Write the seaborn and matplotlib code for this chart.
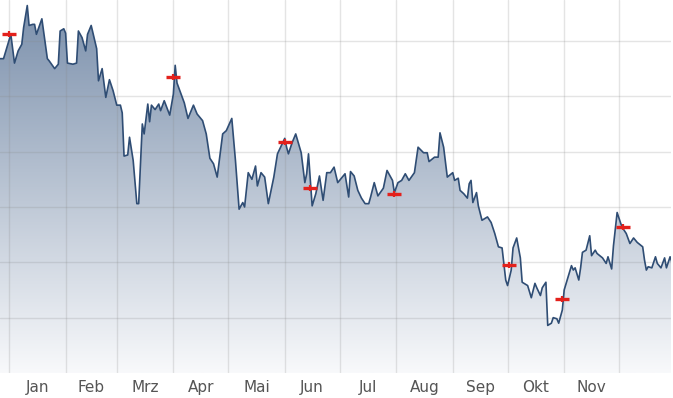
import numpy as np
import pandas as pd
import matplotlib
matplotlib.use("Agg")
import matplotlib.pyplot as plt
import matplotlib.dates as mdates
from matplotlib.colors import LinearSegmentedColormap
from matplotlib.ticker import FixedLocator, FixedFormatter, NullFormatter
import seaborn as sns

# days counted from 1 Jan, closing price
days = [-5, -3, 1, 3, 5, 7, 8, 10, 11, 13, 14, 15, 18, 21, 22, 25, 27, 28, 30, 31,
        32, 35, 37, 38, 40, 42, 43, 45, 48, 49, 51, 53, 55, 57, 59, 61, 62, 63, 65, 66,
        68, 70, 71, 73, 74, 76, 77, 78, 80, 82, 83, 85, 88, 90, 91, 92, 94, 96, 98, 101,
        103, 106, 108, 110, 112, 114, 117, 119, 122, 124, 126, 128, 129, 131, 133, 135, 136, 138, 140, 142,
        145, 147, 149, 151, 152, 153, 155, 157, 160, 162, 163, 164, 166, 168, 170, 172, 174, 176, 178, 180,
        182, 184, 186, 187, 189, 191, 193, 195, 197, 198, 200, 202, 205, 207, 210, 211, 213, 215, 217, 219,
        222, 224, 227, 229, 230, 233, 235, 236, 238, 240, 243, 244, 246, 247, 249, 251, 252, 253, 254, 256,
        257, 259, 262, 264, 266, 267, 268, 270, 272, 273, 275, 276, 278, 280, 281, 284, 286, 288, 289, 291,
        292, 294, 295, 297, 298, 300, 301, 303, 304, 306, 308, 309, 310, 312, 313, 314, 316, 318, 319, 321,
        322, 325, 327, 328, 330, 331, 333, 335, 336, 338, 340, 342, 344, 347, 348, 349, 350, 352, 354, 355,
        357, 359, 360, 362, 364]
price = [68.4, 68.4, 70.6, 68.0, 69.1, 69.7, 71.2, 73.2, 71.4, 71.5, 71.5, 70.6, 72.0, 68.4, 68.2, 67.5, 67.9, 70.9, 71.1, 70.7,
         68.0, 67.9, 68.0, 70.9, 70.3, 69.1, 70.6, 71.4, 69.3, 66.4, 67.5, 64.9, 66.5, 65.5, 64.2, 64.2, 63.5, 59.6, 59.7, 61.3,
         59.2, 55.3, 55.3, 62.5, 61.6, 64.3, 62.7, 64.2, 63.8, 64.3, 63.7, 64.6, 63.3, 65.2, 67.8, 66.2, 65.3, 64.4, 63.0, 64.2,
         63.4, 62.8, 61.6, 59.4, 58.9, 57.7, 61.6, 61.9, 63.0, 59.2, 54.8, 55.4, 55.0, 58.1, 57.5, 58.7, 56.9, 58.1, 57.7, 55.3,
         57.7, 59.8, 60.5, 61.2, 60.4, 59.8, 60.8, 61.6, 59.9, 57.2, 58.0, 59.8, 55.1, 56.2, 57.8, 55.6, 58.1, 58.1, 58.6, 57.2,
         57.6, 58.0, 55.9, 58.2, 57.8, 56.5, 55.8, 55.3, 55.3, 55.9, 57.2, 56.0, 56.7, 58.3, 57.4, 56.3, 57.2, 57.4, 58.0, 57.4,
         58.1, 60.4, 59.9, 59.9, 59.1, 59.5, 59.5, 61.7, 60.4, 57.7, 58.1, 57.4, 57.6, 56.5, 56.2, 55.8, 57.1, 57.4, 55.4, 56.3,
         55.1, 53.8, 54.1, 53.6, 52.6, 52.0, 51.4, 51.3, 48.4, 47.9, 49.3, 51.3, 52.2, 50.4, 48.2, 47.9, 46.8, 48.1, 47.7, 47.0,
         47.7, 48.2, 44.3, 44.5, 45.0, 44.9, 44.5, 45.7, 47.5, 48.6, 49.7, 49.3, 49.5, 48.4, 49.5, 50.9, 51.1, 52.4, 50.6, 51.1,
         50.8, 50.4, 49.9, 50.5, 49.4, 51.5, 54.5, 53.5, 53.1, 52.6, 51.7, 52.2, 51.8, 51.4, 50.2, 49.3, 49.6, 49.5, 50.5, 49.9,
         49.5, 50.4, 49.5, 50.5, 49.5]

# event markers (red)
event_days = [0, 90, 151, 165, 211, 274, 303, 336]
event_price = [70.6, 66.7, 60.9, 56.7, 56.2, 49.8, 46.7, 53.2]

month_labels = ["Jan", "Feb", "Mrz", "Apr", "Mai", "Jun", "Jul", "Aug", "Sep", "Okt", "Nov"]
y_grid = [45, 50, 55, 60, 65, 70]

base = pd.Timestamp("2018-01-01")
df = pd.DataFrame({"date": base + pd.to_timedelta(days, unit="D"), "price": price})
ev = pd.DataFrame({"date": base + pd.to_timedelta(event_days, unit="D"), "price": event_price})

sns.set_theme(style="whitegrid")
plt.rcParams["font.family"] = ["DejaVu Sans"]

fig = plt.figure(figsize=(6.73, 3.98), dpi=100)
ax = fig.add_axes([0, 25 / 398, 671 / 673, 373 / 398])

ymin, ymax = 40.0, 73.7
xmin = base - pd.Timedelta(days=4.93)
xmax = base + pd.Timedelta(days=362.5)

# gradient area under the line
poly = ax.fill_between(df["date"], df["price"], ymin, color="none", lw=0)
cmap = LinearSegmentedColormap.from_list("grad", ["#f8f9fb", "#7a8fab"])
grad = np.linspace(0, 1, 256).reshape(-1, 1)
im = ax.imshow(grad, cmap=cmap, aspect="auto", origin="lower",
               extent=[mdates.date2num(xmin), mdates.date2num(xmax), ymin, ymax], zorder=0)
im.set_clip_path(poly.get_paths()[0], transform=ax.transData)

sns.lineplot(data=df, x="date", y="price", ax=ax, color="#2f4d74", lw=1.2, zorder=3)
sns.scatterplot(data=ev, x="date", y="price", ax=ax, marker="_", s=110, color="#e3211c",
                linewidth=2.4, zorder=4)
sns.scatterplot(data=ev, x="date", y="price", ax=ax, marker="|", s=16, color="#e3211c",
                linewidth=1.6, zorder=4)

ax.set_xlim(xmin, xmax)
ax.set_ylim(ymin, ymax)

# gridlines at month starts, labels in the middle of each month
month_starts = pd.date_range("2018-01-01", "2018-12-01", freq="MS")
ax.xaxis.set_major_locator(mdates.MonthLocator())
ax.xaxis.set_major_formatter(NullFormatter())
mids = [mdates.date2num(month_starts[i] + (month_starts[i + 1] - month_starts[i]) / 2)
        for i in range(len(month_labels))]
ax.xaxis.set_minor_locator(FixedLocator(mids))
ax.xaxis.set_minor_formatter(FixedFormatter(month_labels))
ax.set_yticks(y_grid)
ax.set_yticklabels([])

ax.set_axisbelow("line")
ax.grid(which="major", color="#888888", alpha=0.22, lw=1)
ax.grid(which="minor", visible=False)
ax.tick_params(which="both", length=0)
ax.tick_params(axis="x", which="minor", labelsize=11, labelcolor="#555555", pad=5)
ax.set_xlabel("")
ax.set_ylabel("")
for s in ax.spines.values():
    s.set_visible(False)
ax.set_facecolor("white")

fig.savefig("out.png", dpi=100)
